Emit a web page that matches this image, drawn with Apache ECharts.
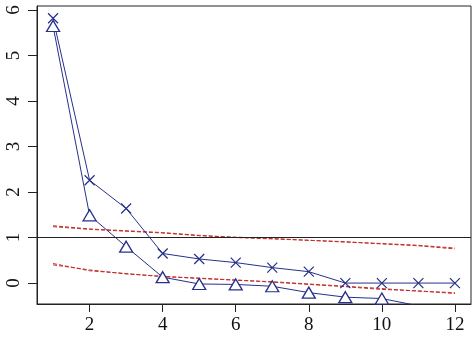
<!DOCTYPE html>
<html>
<head>
<meta charset="utf-8">
<script src="https://cdn.jsdelivr.net/npm/echarts@6/dist/echarts.min.js"></script>
<style>
html, body { margin: 0; padding: 0; background: #fff; }
#chart { width: 476px; height: 342px; }
</style>
</head>
<body>
<div id="chart"></div>
<script>
// factor numbers and eigenvalues
const factors = [1, 2, 3, 4, 5, 6, 7, 8, 9, 10, 11, 12]
const pcActual = [5.82, 2.26, 1.64, 0.65, 0.53, 0.45, 0.34, 0.25, 0.0, 0.0, 0.0, 0.0]
const faActual = [5.65, 1.49, 0.80, 0.13, -0.02, -0.03, -0.07, -0.21, -0.31, -0.34, -0.5, -0.6]
const pcSim = [1.26, 1.19, 1.15, 1.11, 1.05, 1.00, 0.97, 0.94, 0.91, 0.86, 0.82, 0.75]
const pcResamp = [1.24, 1.18, 1.14, 1.10, 1.04, 1.01, 0.98, 0.94, 0.90, 0.87, 0.83, 0.77]
const faSim = [0.40, 0.29, 0.20, 0.15, 0.10, 0.07, 0.02, -0.03, -0.08, -0.14, -0.17, -0.23]
const faResamp = [0.43, 0.27, 0.21, 0.14, 0.11, 0.06, 0.03, -0.02, -0.07, -0.12, -0.18, -0.21]

const blue = '#27308a'
const red = '#c0302b'
const font = 'Liberation Serif'
const xMin = 0.56, xMax = 12.44, yMin = -0.46, yMax = 6.09

const pairs = arr => factors.map((f, i) => [f, arr[i]])
// only whole numbers get a label, the padded axis ends stay blank
const wholeOnly = v => Number.isInteger(v) ? String(v) : ''

const chart = echarts.init(document.getElementById('chart'))

const dashed = (name, arr) => ({
    name: name,
    type: 'line',
    data: pairs(arr),
    showSymbol: false,
    symbol: 'none',
    lineStyle: { color: red, width: 1, type: [4, 2] },
    z: 2
})

const option = {
    animation: false,
    grid: {
        left: 37, right: 5, top: 6, bottom: 38,
        show: true, borderColor: '#222', borderWidth: 1
    },
    xAxis: {
        type: 'value',
        min: xMin,
        max: xMax,
        axisLine: { show: true, onZero: false, lineStyle: { color: '#222' } },
        splitLine: { show: false },
        axisTick: { show: true, length: 8, lineStyle: { color: '#222' } },
        axisLabel: {
            margin: 12, showMinLabel: false, showMaxLabel: false,
            formatter: wholeOnly,
            fontFamily: font, fontSize: 19, color: '#111'
        }
    },
    yAxis: {
        type: 'value',
        min: yMin,
        max: yMax,
        axisLine: { show: true, onZero: false, lineStyle: { color: '#222' } },
        splitLine: { show: false },
        axisTick: { show: true, length: 9, lineStyle: { color: '#222' } },
        axisLabel: {
            rotate: 90, margin: 13, showMinLabel: false, showMaxLabel: false,
            formatter: wholeOnly,
            fontFamily: font, fontSize: 19, color: '#111'
        }
    },
    series: [
        dashed('pcSim', pcSim),
        dashed('pcResamp', pcResamp),
        dashed('faSim', faSim),
        dashed('faResamp', faResamp),
        {
            name: 'pc',
            type: 'line',
            data: pairs(pcActual),
            symbol: 'path://M0,0L10,10M10,0L0,10',
            symbolSize: 10,
            lineStyle: { color: blue, width: 1 },
            itemStyle: { color: blue, borderColor: blue, borderWidth: 1.2 },
            z: 3,
            markLine: {
                silent: true,
                symbol: 'none',
                label: { show: false },
                lineStyle: { color: '#222', type: 'solid', width: 1 },
                data: [{ yAxis: 1 }]
            }
        },
        {
            name: 'fa',
            type: 'line',
            data: pairs(faActual),
            symbol: 'triangle',
            symbolSize: [13, 11],
            lineStyle: { color: blue, width: 1 },
            itemStyle: { color: '#fff', borderColor: blue, borderWidth: 1.3 },
            z: 4
        }
    ]
}
chart.setOption(option)
</script>
</body>
</html>
